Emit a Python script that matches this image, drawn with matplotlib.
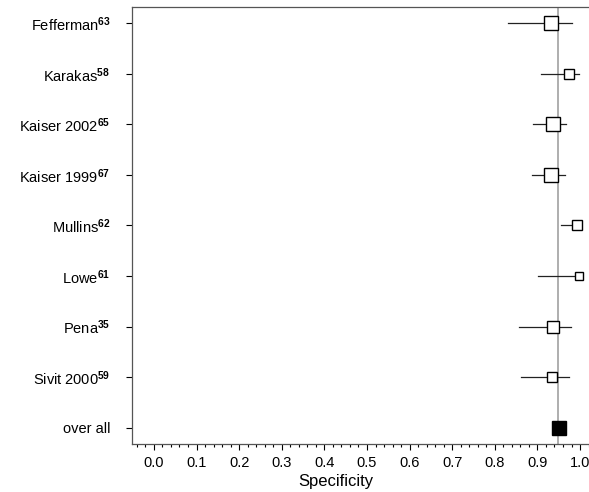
import numpy as np
import matplotlib
matplotlib.use('Agg')
import matplotlib.pyplot as plt
from matplotlib.ticker import MultipleLocator

plt.rcParams['font.family'] = ['Liberation Sans', 'DejaVu Sans']
plt.rcParams['mathtext.fontset'] = 'custom'
plt.rcParams['mathtext.rm'] = 'Liberation Sans:bold'
plt.rcParams['mathtext.it'] = 'Liberation Sans:bold'
plt.rcParams['mathtext.bf'] = 'Liberation Sans:bold'

# study labels, top to bottom
studies = ['Fefferman$^{63}$', 'Karakas$^{58}$', 'Kaiser 2002$^{65}$', 'Kaiser 1999$^{67}$',
           'Mullins$^{62}$', 'Lowe$^{61}$', 'Pena$^{35}$', 'Sivit 2000$^{59}$', 'over all']
spec = [0.932, 0.974, 0.937, 0.932, 0.992, 0.998, 0.937, 0.934, 0.950]
ci_low = [0.831, 0.908, 0.890, 0.887, 0.955, 0.901, 0.857, 0.861, 0.940]
ci_high = [0.981, 0.998, 0.967, 0.965, 1.000, 1.000, 0.979, 0.974, 0.960]
# box size (weight), in points
box_size = [9.4, 6.8, 9.4, 9.8, 7.2, 5.4, 8.8, 6.6, 10.5]
pooled = 0.948

fig = plt.figure(figsize=(5.89, 4.92), dpi=100)
ax = fig.add_axes([0.224, 0.0976, 0.776, 0.8882])

n = len(studies)
ypos = np.arange(n, 0, -1)

ax.axvline(pooled, color='#999999', lw=1.1, zorder=1)

for i in range(n):
    y = ypos[i]
    ax.plot([ci_low[i], ci_high[i]], [y, y], color='#222222', lw=0.9, zorder=2)
    overall = studies[i] == 'over all'
    ax.plot(spec[i], y, marker='s', ms=box_size[i],
            mfc='black' if overall else 'white', mec='black', mew=1.0,
            ls='none', zorder=3)

ax.set_xlim(-0.0516, 1.021)
ax.set_ylim(0.68, 9.32)
ax.set_yticks(ypos)
ax.set_yticklabels(studies, fontsize=10.5)
ax.xaxis.set_major_locator(MultipleLocator(0.1))
ax.xaxis.set_minor_locator(MultipleLocator(0.02))
ax.set_xticks(np.arange(0, 1.01, 0.1))
ax.set_xticklabels(['%.1f' % v for v in np.arange(0, 1.01, 0.1)], fontsize=10.5)
ax.tick_params(axis='x', which='major', length=4, width=0.8, direction='out', pad=5)
ax.tick_params(axis='x', which='minor', length=2.5, width=0.8, direction='out')
ax.tick_params(axis='y', length=4, width=0.8, direction='out', pad=11.5)
ax.set_xlabel('Specificity', fontsize=12)
ax.xaxis.set_label_coords(0.446, -0.068)

ax.spines['right'].set_visible(False)
for s in ['left', 'top', 'bottom']:
    ax.spines[s].set_color('#555555')
    ax.spines[s].set_linewidth(0.9)

fig.savefig('out.png', dpi=100)
